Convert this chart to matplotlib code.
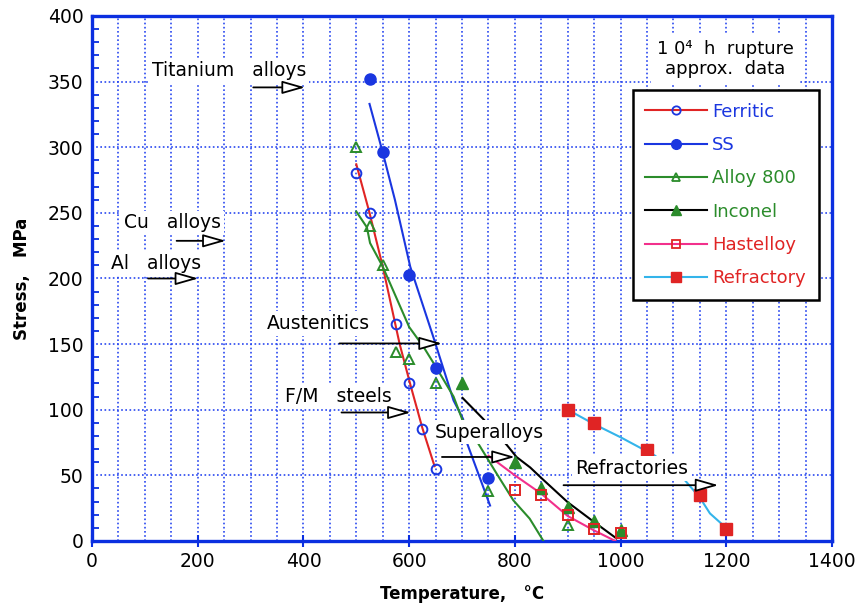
import matplotlib
matplotlib.use("Agg")
import matplotlib.pyplot as plt
from matplotlib.lines import Line2D
from matplotlib.ticker import MultipleLocator

# 10^4 h rupture points (temperature in C, stress in MPa)
ferritic_t = [500, 525, 575, 600, 625, 650]
ferritic_s = [280, 250, 165, 120, 85, 55]
ss_t = [525, 550, 600, 650, 750]
ss_s = [352, 296, 203, 132, 48]
alloy800_t = [500, 525, 550, 575, 600, 650, 750, 900]
alloy800_s = [300, 240, 210, 144, 139, 120, 38, 12]
inconel_t = [700, 800, 850, 900, 950, 1000]
inconel_s = [120, 60, 40, 26, 15, 8]
hastelloy_t = [800, 850, 900, 950, 1000]
hastelloy_s = [39, 35, 20, 9, 6]
refractory_t = [900, 950, 1050, 1150, 1200]
refractory_s = [100, 90, 69, 35, 9]

# trend curves drawn through each family
ferritic_fit_t = [500, 525, 550, 582, 603, 625, 648]
ferritic_fit_s = [287, 250, 209, 150, 118, 86, 57]
ss_fit_t = [525, 550, 573, 602, 646, 684, 702, 710, 753]
ss_fit_s = [333, 296, 260, 209, 155, 107, 93, 74, 27]
alloy800_fit_t = [500, 520, 526, 550, 575, 600, 627, 650, 684, 700, 731, 766, 797, 828, 854]
alloy800_fit_s = [251, 239, 227, 209, 186, 163, 148, 133, 110, 93, 74, 51, 31, 17, 0]
inconel_fit_t = [701, 740, 785, 803, 829, 850, 900, 948, 992]
inconel_fit_s = [109, 93, 73, 64, 56, 48, 29.5, 15, 2]
hastelloy_fit_t = [750, 800, 850, 900, 950, 990]
hastelloy_fit_s = [65, 50, 36, 19, 8, 0]
refractory_fit_t = [900, 950, 1000, 1065, 1119, 1150, 1169, 1194]
refractory_fit_s = [100, 89, 79, 65, 47.5, 33, 21, 12]

BLUE = "#1a36e0"
GREEN = "#2b8c2b"
RED = "#e02424"
PINK = "#f2308c"
SKY = "#33b4ea"
AXBLUE = "#0b2fe0"
GRIDBLUE = "#2a48f0"

fig = plt.figure(figsize=(8.6, 6.06), dpi=100)
ax = fig.add_axes([0.107, 0.1073, 0.8605, 0.8663])

# fitted curves
ax.plot(ferritic_fit_t, ferritic_fit_s, color=RED, lw=1.5, zorder=3)
ax.plot(ss_fit_t, ss_fit_s, color=BLUE, lw=1.5, zorder=3)
ax.plot(alloy800_fit_t, alloy800_fit_s, color=GREEN, lw=1.5, zorder=3)
ax.plot(inconel_fit_t, inconel_fit_s, color="k", lw=1.5, zorder=3)
ax.plot(hastelloy_fit_t, hastelloy_fit_s, color=PINK, lw=1.5, zorder=3)
ax.plot(refractory_fit_t, refractory_fit_s, color=SKY, lw=1.5, zorder=3)

# data points
ax.plot(ferritic_t, ferritic_s, "o", ms=7, mfc="none", mec=BLUE, mew=1.4, zorder=4)
ax.plot(ss_t, ss_s, "o", ms=8, mfc=BLUE, mec=BLUE, zorder=4)
ax.plot(alloy800_t, alloy800_s, "^", ms=7, mfc="none", mec=GREEN, mew=1.4, zorder=4)
ax.plot(inconel_t, inconel_s, "^", ms=8, mfc=GREEN, mec=GREEN, zorder=4)
ax.plot(hastelloy_t, hastelloy_s, "s", ms=7, mfc="none", mec=RED, mew=1.4, zorder=4)
ax.plot(refractory_t, refractory_s, "s", ms=8, mfc=RED, mec=RED, zorder=4)

# material class labels with arrows
notes = [
    ("Titanium   alloys", (113, 358.7), (305, 403, 345.6)),
    ("Cu   alloys", (60, 242.4), (160, 253, 228.7)),
    ("Al   alloys", (35, 211.4), (106, 201, 200)),
    ("Austenitics", (330, 165.7), (468, 662, 150.5)),
    ("F/M   steels", (365, 109.8), (472, 603, 97.9)),
    ("Superalloys", (649, 83), (662, 800, 64)),
    ("Refractories", (914, 55.2), (892, 1185, 42.5)),
]
for txt, (tx, ty), (x0, x1, ay) in notes:
    ax.text(tx, ty, txt, fontsize=13.5, ha="left", va="center", zorder=6,
            bbox=dict(boxstyle="square,pad=0.15", fc="white", ec="none"))
    ax.annotate("", xy=(x1, ay), xytext=(x0, ay), zorder=7,
                arrowprops=dict(arrowstyle="-|>,head_length=0.7,head_width=0.2",
                                mutation_scale=20, fc="white", ec="black",
                                lw=1.3, shrinkA=0, shrinkB=0))

ax.text(1198, 367, "1 0\u2074  h  rupture\napprox.  data", fontsize=13,
        ha="center", va="center", linespacing=1.15, zorder=6,
        bbox=dict(boxstyle="square,pad=0.3", fc="white", ec="none"))

ax.set_xlim(0, 1400)
ax.set_ylim(0, 400)
ax.xaxis.set_major_locator(MultipleLocator(200))
ax.xaxis.set_minor_locator(MultipleLocator(50))
ax.yaxis.set_major_locator(MultipleLocator(50))
ax.yaxis.set_minor_locator(MultipleLocator(10))
ax.grid(True, which="both", axis="x", color=GRIDBLUE, ls=(0, (1, 1.5)), lw=1.2, zorder=0)
ax.grid(True, which="major", axis="y", color=GRIDBLUE, ls=(0, (1, 1.5)), lw=1.2, zorder=0)
ax.set_axisbelow(True)

for sp in ax.spines.values():
    sp.set_color(AXBLUE)
    sp.set_linewidth(2.4)
ax.tick_params(axis="both", which="major", labelsize=13.5, color=AXBLUE, width=1.5)
ax.tick_params(axis="x", which="major", direction="inout", length=8, pad=4)
ax.tick_params(axis="x", which="minor", length=0)
ax.tick_params(axis="y", which="major", direction="in", length=0, pad=6)
ax.tick_params(axis="y", which="minor", direction="in", length=5, color=AXBLUE, width=1.3)

ax.set_xlabel("Temperature,   \u00b0C", fontsize=12, fontweight="bold", labelpad=10)
ax.set_ylabel("Stress,   MPa", fontsize=12, fontweight="bold", labelpad=12)

handles = [
    Line2D([], [], color=RED, lw=1.5, marker="o", ms=6, mfc="none", mec=BLUE, mew=1.3),
    Line2D([], [], color=BLUE, lw=1.5, marker="o", ms=7, mfc=BLUE, mec=BLUE),
    Line2D([], [], color=GREEN, lw=1.5, marker="^", ms=6, mfc="none", mec=GREEN, mew=1.3),
    Line2D([], [], color="k", lw=1.5, marker="^", ms=7, mfc=GREEN, mec=GREEN),
    Line2D([], [], color=PINK, lw=1.5, marker="s", ms=6, mfc="none", mec=RED, mew=1.3),
    Line2D([], [], color=SKY, lw=1.5, marker="s", ms=7, mfc=RED, mec=RED),
]
labels = ["Ferritic", "SS", "Alloy 800", "Inconel", "Hastelloy", "Refractory"]
label_colors = [BLUE, BLUE, GREEN, GREEN, RED, RED]
leg = ax.legend(handles, labels, loc="upper right", bbox_to_anchor=(0.994, 0.876),
                fontsize=13, handlelength=3.4, handletextpad=0.3, labelspacing=0.85,
                borderpad=0.7, fancybox=False, framealpha=1, edgecolor="black")
leg.get_frame().set_linewidth(1.8)
leg.set_zorder(8)
for t, c in zip(leg.get_texts(), label_colors):
    t.set_color(c)

fig.savefig("out.png", dpi=100)
